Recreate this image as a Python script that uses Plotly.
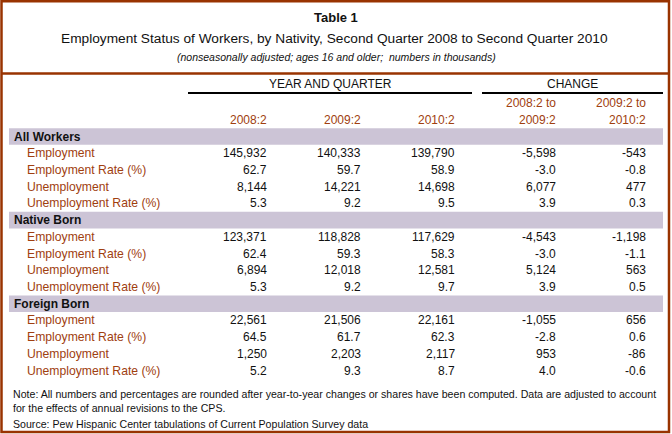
import plotly.graph_objects as go

# ---------------- data ----------------
title = "Table 1"
subtitle = "Employment Status of Workers, by Nativity, Second Quarter 2008 to Second Quarter 2010"
subnote = "(nonseasonally adjusted; ages 16 and older;  numbers in thousands)"

groups = ["All Workers", "Native Born", "Foreign Born"]
measures = ["Employment", "Employment Rate (%)", "Unemployment", "Unemployment Rate (%)"]

col_2008 = ["145,932", "62.7", "8,144", "5.3",
            "123,371", "62.4", "6,894", "5.3",
            "22,561", "64.5", "1,250", "5.2"]
col_2009 = ["140,333", "59.7", "14,221", "9.2",
            "118,828", "59.3", "12,018", "9.2",
            "21,506", "61.7", "2,203", "9.3"]
col_2010 = ["139,790", "58.9", "14,698", "9.5",
            "117,629", "58.3", "12,581", "9.7",
            "22,161", "62.3", "2,117", "8.7"]
chg_0809 = ["-5,598", "-3.0", "6,077", "3.9",
            "-4,543", "-3.0", "5,124", "3.9",
            "-1,055", "-2.8", "953", "4.0"]
chg_0910 = ["-543", "-0.8", "477", "0.3",
            "-1,198", "-1.1", "563", "0.5",
            "656", "0.6", "-86", "-0.6"]

col_headers = [["2008:2"], ["2009:2"], ["2010:2"], ["2008:2 to", "2009:2"], ["2009:2 to", "2010:2"]]
group_headers = ["YEAR AND QUARTER", "CHANGE"]

notes = ["Note: All numbers and percentages are rounded after year-to-year changes or shares have been computed. Data are adjusted to account",
         "for the effects of annual revisions to the CPS."]
source = "Source: Pew Hispanic Center tabulations of Current Population Survey data"

# ---------------- layout constants ----------------
W, H = 672, 434
FONT = "Liberation Sans, Arial, sans-serif"
ORANGE = "#a0400f"
BORDER = "#993300"
BAND = "#ccc4d6"
TXT = "#111111"

Y0 = 136.5      # first band row centre
STEP = 16.72    # row pitch
COL_RIGHT = [268, 362, 456, 557, 647]
LABEL_X = 25
GROUP_X = 12

def ry(i):
    return Y0 + i * STEP

fig = go.Figure()
fig.add_trace(go.Scatter(x=[0, W], y=[0, H], mode="markers",
                         marker=dict(opacity=0), hoverinfo="skip", showlegend=False))

ann = []
shapes = []

def text(x, y, s, size=12, color=TXT, xanchor="left", bold=False, italic=False):
    if bold:
        s = "<b>" + s + "</b>"
    if italic:
        s = "<i>" + s + "</i>"
    ann.append(dict(x=x, y=y, xref="x", yref="y", text=s, showarrow=False,
                    xanchor=xanchor, yanchor="middle",
                    font=dict(family=FONT, size=size, color=color)))

# title block
text(W / 2, 17, title, size=13, xanchor="center", bold=True)
text(334, 38, subtitle, size=13.7, xanchor="center")
text(336, 57, subnote, size=10.5, xanchor="center", italic=True)

# frame
shapes.append(dict(type="rect", xref="x", yref="y", x0=1.5, x1=669, y0=1.2, y1=432,
                   line=dict(color=BORDER, width=2.5)))
shapes.append(dict(type="line", xref="x", yref="y", x0=1.5, x1=669, y0=73.5, y1=73.5,
                   line=dict(color=BORDER, width=2.5)))

# group headers
text(330, 84, group_headers[0], xanchor="center")
text(572, 84, group_headers[1], xanchor="center")
shapes.append(dict(type="line", xref="x", yref="y", x0=188, x1=472, y0=93, y1=93,
                   line=dict(color="black", width=2)))
shapes.append(dict(type="line", xref="x", yref="y", x0=482, x1=663, y0=93, y1=93,
                   line=dict(color="black", width=2)))

# column headers
for xr, lines in zip(COL_RIGHT, col_headers):
    for k, s in enumerate(reversed(lines)):
        text(xr + 1, 119.5 - 16.5 * k, s, color=ORANGE, xanchor="right")

# body
cols = [col_2008, col_2009, col_2010, chg_0809, chg_0910]
row = 0
for g, grp in enumerate(groups):
    yc = ry(row)
    shapes.append(dict(type="rect", xref="x", yref="y", x0=9, x1=663,
                       y0=yc - 8.3, y1=yc + 8.3, fillcolor=BAND, line=dict(width=0),
                       layer="below"))
    text(GROUP_X, yc, grp, bold=True)
    row += 1
    for m, meas in enumerate(measures):
        yc = ry(row)
        text(LABEL_X, yc, meas, color=ORANGE, size=12.2)
        idx = g * len(measures) + m
        for xr, col in zip(COL_RIGHT, cols):
            text(xr + 1, yc, col[idx], xanchor="right")
        row += 1

# notes
text(GROUP_X - 1, 394, notes[0], size=10.6)
text(GROUP_X - 1, 407.5, notes[1], size=10.6)
text(GROUP_X - 1, 424, source, size=10.6)

fig.update_layout(
    width=W, height=H, margin=dict(l=0, r=0, t=0, b=0),
    paper_bgcolor="white", plot_bgcolor="white",
    xaxis=dict(range=[0, W], visible=False, fixedrange=True),
    yaxis=dict(range=[H, 0], visible=False, fixedrange=True),
    annotations=ann, shapes=shapes, showlegend=False,
)

fig.write_html("out.html", config={"displayModeBar": False},
               post_script="document.body.style.margin='0';document.body.style.overflow='hidden';")
